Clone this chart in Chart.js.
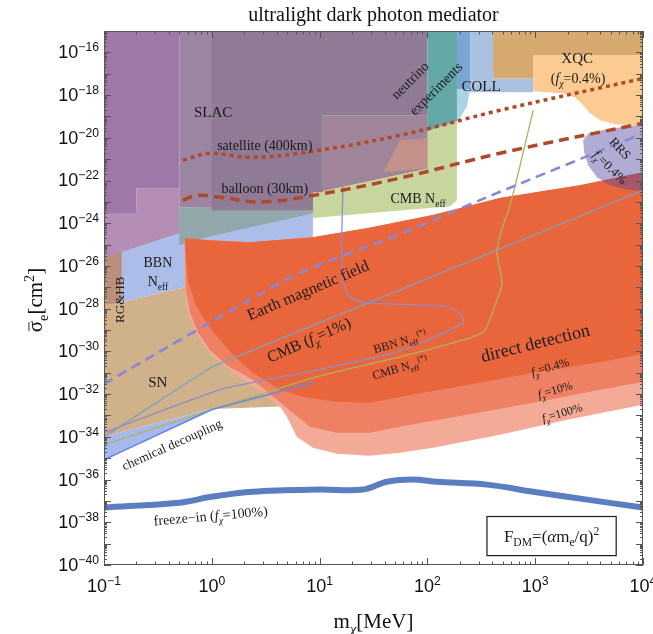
<!DOCTYPE html>
<html>
<head>
<meta charset="utf-8">
<script src="https://cdn.jsdelivr.net/npm/chart.js@4.4.1/dist/chart.umd.min.js"></script>
<style>
  html, body { margin: 0; padding: 0; background: #fff; }
  canvas { display: block; }
</style>
</head>
<body>
<canvas id="plot" width="653" height="634"></canvas>
<script>
// axis ticks
const massTicks = [0.1, 1, 10, 100, 1000, 10000];
const massTickExp = ['\u22121', '0', '1', '2', '3', '4'];
const sigmaTicks = [1e-16, 1e-18, 1e-20, 1e-22, 1e-24, 1e-26, 1e-28, 1e-30, 1e-32, 1e-34, 1e-36, 1e-38, 1e-40];
const sigmaTickExp = ['\u221216', '\u221218', '\u221220', '\u221222', '\u221224', '\u221226', '\u221228',
  '\u221230', '\u221232', '\u221234', '\u221236', '\u221238', '\u221240'];

// excluded regions, points are [m_chi in MeV, sigma_e in cm^2]
const bbnNeff = [[0.1, 2.95e-24], [8.67, 1.2e-23], [8.67, 1.6e-25], [2.25, 1.5e-26], [0.56, 1.0e-27], [0.146, 2.0e-28], [0.1, 1.5e-28]];
const supernova = [[0.1, 2.6e-28], [0.146, 2.0e-28], [0.56, 1.0e-27], [2.25, 1.1e-26], [12.5, 5.5e-26], [12.5, 3.2e-33], [4.28, 2.6e-33], [1.0, 2.0e-33], [0.1, 1.0e-34]];
const chemDecoupling = [[0.1, 1.0e-34], [1.0, 2.0e-33], [1.0, 1.7e-33], [0.1, 8.5e-36]];
const rgHB = [[0.1, 2.95e-24], [0.146, 2.95e-24], [0.146, 2.0e-28], [0.1, 1.5e-28]];
const rgHBEdge = [[0.1, 7.4e-28], [0.106, 7.4e-28], [0.106, 2.8e-30], [0.1, 2.8e-30]];
const stellarPink = [[0.1, 2.95e-24], [0.2, 2.95e-24], [0.2, 4.4e-23], [0.5, 4.4e-23], [0.5, 3.5e-25], [0.146, 4.5e-26], [0.1, 2.3e-26]];
const stellarPurple = [[0.1, 1e-15], [0.5, 1e-15], [0.5, 4.4e-23], [0.2, 4.4e-23], [0.2, 2.95e-24], [0.1, 2.95e-24]];
const cmbNeff = [[8.67, 5.6e-19], [188, 5.6e-19], [188, 1.2e-23], [162, 6.3e-24], [8.67, 1.74e-24]];
const slacEdge = [[0.5, 5.6e-24], [8.67, 5.6e-24], [8.67, 2.95e-24], [1.0, 2.5e-25], [0.5, 9.5e-26]];
const slac = [[0.5, 1e-15], [8.67, 1e-15], [8.67, 5.6e-24], [0.5, 5.6e-24]];
const slacUpper = [[1.0, 1e-15], [100, 1e-15], [100, 1.1e-19], [10.7, 1.1e-19], [10.7, 2.8e-23], [8.67, 2.8e-23], [8.67, 4.1e-24], [1.0, 4.1e-24]];
const slacMid = [[10.7, 1.1e-19], [100, 1.1e-19], [100, 3.7e-22], [10.7, 3.2e-23]];
const slacSalmon = [[38.7, 2.45e-22], [55.6, 7.6e-21], [100, 9.5e-21], [100, 3.7e-22]];
const neutrino = [[100, 1e-15], [188, 1e-15], [188, 5.9e-20], [131, 3.5e-20], [100, 2.0e-20]];
const collider = [[188, 1e-15], [249, 1e-15], [249, 1.85e-18], [188, 1.85e-18]];
const colliderEdge = [[188, 1.85e-18], [249, 1.85e-18], [233, 3.0e-19], [205, 1.0e-19], [188, 5.9e-20]];
const colliderLight = [[249, 1e-15], [407, 1e-15], [407, 6.0e-18], [957, 6.0e-18], [957, 1.35e-18], [249, 1.35e-18]];
const xqcFull = [[407, 1e-15], [1e4, 1e-15], [1e4, 7.2e-17], [957, 7.2e-17], [957, 6.0e-18], [407, 6.0e-18]];
const xqcFrac = [[957, 7.2e-17], [1e4, 7.2e-17], [1e4, 3.8e-20], [5520, 4.3e-20], [4008, 6.6e-20], [3236, 1.4e-19], [2786, 3.3e-19], [2344, 7.8e-19], [1816, 1.2e-18], [957, 1.5e-18]];
const ddTop = [[0.56, 2.0e-25], [0.958, 1.6e-25], [2.25, 1.3e-25], [8.67, 2.2e-25], [27.5, 5.9e-25], [113, 2.4e-24], [472, 1.5e-23], [2612, 6.0e-23], [1e4, 2.45e-22]];
const ddBottom100 = [[1e4, 3.2e-33], [1978, 6.3e-34], [472, 1.26e-34], [113, 3.1e-35], [55.6, 1.8e-35], [29.3, 1.3e-35], [14.5, 1.6e-35], [8.67, 3.1e-35], [6.15, 1.0e-34], [4.97, 8.7e-34], [4.28, 2.6e-33], [2.91, 1.15e-32], [1.82, 5.8e-32], [1.19, 3.2e-31], [0.861, 1.6e-30], [0.695, 1.0e-29], [0.6, 8.7e-29], [0.56, 7.4e-28]];
const ddBottom10 = [[1e4, 3.7e-32], [4008, 1.6e-32], [957, 3.9e-33], [233, 1.07e-33], [55.6, 2.95e-34], [29.3, 1.55e-34], [14.5, 1.55e-34], [8.13, 2.95e-34], [5.65, 1.35e-33], [4.01, 5.4e-33], [2.4, 4.7e-32], [1.41, 2.1e-31], [0.958, 1.17e-30], [0.741, 8.1e-30], [0.625, 7.1e-29], [0.574, 7.4e-28]];
const ddBottom04 = [[1e4, 7.6e-31], [4008, 3.2e-31], [957, 1.0e-31], [233, 2.7e-32], [55.6, 7.4e-33], [29.3, 3.9e-33], [14.5, 4.4e-33], [7.0, 7.4e-33], [4.28, 1.6e-32], [2.4, 1.0e-31], [1.64, 5.5e-31], [1.19, 3.5e-30], [0.918, 1.74e-29], [0.71, 1.5e-28], [0.6, 2.2e-27]];
const rrs = [[1e4, 4.3e-20], [6147, 3.1e-20], [4008, 2.2e-20], [3105, 1.6e-20], [2786, 7.6e-21], [2844, 2.1e-21], [3105, 5.1e-22], [3758, 1.4e-22], [4955, 6.0e-23], [6840, 3.9e-23], [1e4, 3.2e-23]];

// curves
const cmbOnePct = [[0.1, 1.0e-34], [1.0, 1.9e-31], [1e4, 3.5e-23]];
const bbnNeffStar = [[0.1, 1.55e-34], [1.19, 1.6e-32], [8.67, 1.23e-31], [55.6, 1.05e-30], [214, 2.1e-29], [201, 6.3e-29], [140, 1.35e-28], [27.5, 1.86e-28], [19.1, 3.5e-28], [16.5, 1.8e-27], [16.1, 1.4e-26], [16.1, 4.8e-25], [16.5, 5.4e-23]];
const cmbNeffStar = [[0.1, 4.3e-35], [8.67, 5.8e-32], [55.6, 5.5e-31], [265, 4.8e-30], [343, 1.0e-29], [443, 2.6e-28], [493, 1.6e-27], [443, 4.0e-26], [472, 2.8e-25], [585, 7.1e-24], [724, 5.1e-22], [957, 1.95e-19]];
const chemLine = [[0.1, 8.5e-36], [1.0, 1.9e-33], [8.67, 3.4e-32]];
const earthField = [[0.1, 3.0e-32], [2.25, 2.6e-28], [6.56, 4.7e-27], [68.9, 4.8e-25], [358, 1.66e-23], [1e4, 1.6e-20]];
const satellite = [[0.538, 8.9e-22], [0.958, 1.9e-21], [2.25, 1.2e-21], [6.56, 1.9e-21], [55.6, 1.3e-20], [472, 1.95e-19], [1e4, 6.0e-18]];
const balloon = [[0.538, 1.2e-23], [0.726, 2.0e-23], [1.19, 1.66e-23], [2.79, 9.8e-24], [8.67, 2.0e-23], [55.6, 1.3e-22], [472, 1.9e-21], [1e4, 4.8e-20]];
const freezeIn = [[0.1, 4.9e-38], [0.5, 8.3e-38], [1.02, 1.6e-37], [2.4, 2.7e-37], [10, 3.4e-37], [25.2, 3.4e-37], [42.2, 7.9e-37], [73.5, 1.0e-36], [123, 7.9e-37], [358, 5.8e-37], [957, 2.7e-37], [3036, 1.15e-37], [1e4, 4.9e-38]];

const SERIF = '"Liberation Serif", "Times New Roman", serif';
const SANS = '"Liberation Sans", Arial, sans-serif';

// region labels, anchored in data coordinates
const notes = [
  {t: [['SLAC', '']], m: 1.03, s: 1.55e-19, size: 15, rot: 0},
  {t: [['satellite (400km)', '']], m: 3.1, s: 4.5e-21, size: 14, rot: 0},
  {t: [['balloon (30km)', '']], m: 3.1, s: 4.4e-23, size: 14, rot: 0},
  {t: [['neutrino', '']], m: 68.9, s: 4.9e-18, size: 14, rot: -45},
  {t: [['experiments', '']], m: 120, s: 2.0e-18, size: 14, rot: -45},
  {t: [['COLL', '']], m: 315, s: 2.6e-18, size: 15, rot: 0},
  {t: [['XQC', '']], m: 2450, s: 5.2e-17, size: 15, rot: 0},
  {t: [['(', ''], ['f', 'i'], ['\u03c7', 'isub'], ['=0.4%)', '']], m: 2500, s: 6.0e-18, size: 14, rot: 0},
  {t: [['RRS', '']], m: 6140, s: 3.2e-21, size: 13, rot: 47},
  {t: [['f', 'i'], ['\u03c7', 'isub'], ['=0.4%', '']], m: 4960, s: 4.2e-22, size: 13, rot: 45},
  {t: [['CMB N', ''], ['eff', 'sub']], m: 81.8, s: 1.5e-23, size: 14, rot: 0},
  {t: [['BBN', '']], m: 0.316, s: 1.4e-26, size: 14, rot: 0},
  {t: [['N', ''], ['eff', 'sub']], m: 0.316, s: 1.8e-27, size: 14, rot: 0},
  {t: [['RG&HB', '']], m: 0.14, s: 2.6e-28, size: 13, rot: -90},
  {t: [['Earth magnetic field', '']], m: 7.78, s: 7.4e-28, size: 16, rot: -23},
  {t: [['CMB (', ''], ['f', 'i'], ['\u03c7', 'isub'], ['=1%)', '']], m: 7.95, s: 3.5e-30, size: 16, rot: -24},
  {t: [['BBN N', ''], ['eff', 'sub'], ['(*)', 'sup']], m: 55.7, s: 2.8e-30, size: 12, rot: -16},
  {t: [['CMB N', ''], ['eff', 'sub'], ['(*)', 'sup']], m: 55.7, s: 1.7e-31, size: 12, rot: -16},
  {t: [['direct detection', '']], m: 998, s: 2.5e-30, size: 18, rot: -14},
  {t: [['f', 'i'], ['\u03c7', 'isub'], ['=0.4%', '']], m: 1375, s: 1.9e-31, size: 12, rot: -16},
  {t: [['f', 'i'], ['\u03c7', 'isub'], ['=10%', '']], m: 1530, s: 1.6e-32, size: 12, rot: -16},
  {t: [['f', 'i'], ['\u03c7', 'isub'], ['=100%', '']], m: 1780, s: 1.35e-33, size: 12, rot: -16},
  {t: [['SN', '']], m: 0.316, s: 3.7e-32, size: 15, rot: 0},
  {t: [['chemical decoupling', '']], m: 0.426, s: 4.3e-35, size: 13, rot: -24},
  {t: [['freeze\u2212in (', ''], ['f', 'i'], ['\u03c7', 'isub'], ['=100%)', '']], m: 0.977, s: 2.0e-38, size: 14, rot: -5}
];

const pts = arr => arr.map(([m, s]) => ({x: m, y: s}));

// back to front
const areas = [
  [bbnNeff, '#adbde9'],
  [supernova, '#cfb18a'],
  [chemDecoupling, '#a7b8ef'],
  [rgHB, '#ba8f7c'],
  [rgHBEdge, '#e6a257'],
  [stellarPink, '#b48db4'],
  [stellarPurple, '#9e79a7'],
  [cmbNeff, '#c7d69d'],
  [slacEdge, '#92a7a9'],
  [slac, '#9b85a2'],
  [slacUpper, '#8f7b96'],
  [slacMid, '#a08499'],
  [slacSalmon, '#c3918a'],
  [neutrino, '#63a8a7'],
  [collider, '#7aa6d4'],
  [colliderEdge, '#aad4e3'],
  [colliderLight, '#aac0e1'],
  [xqcFull, '#d6aa6f'],
  [xqcFrac, '#fbcb91'],
  [ddTop.concat(ddBottom100), '#f3ab97'],
  [ddTop.concat(ddBottom10), '#ee8164'],
  [ddTop.concat(ddBottom04), '#e9663d'],
  [rrs, 'rgba(80,70,160,0.45)']
];

const curves = [
  [cmbOnePct, '#7f9fbd', 1.3, [], 0],
  [bbnNeffStar, '#8f8dc9', 1.3, [], 0.2],
  [cmbNeffStar, '#aab45c', 1.3, [], 0.2],
  [chemLine, '#6688dd', 1.5, [], 0],
  [earthField, '#8c86d4', 2.6, [10, 6], 0.3],
  [satellite, '#b2482b', 3.5, [4, 4], 0.35],
  [balloon, '#b2482b', 3.5, [10, 6], 0.35],
  [freezeIn, '#5a7ec0', 6, [], 0.35]
];

const datasets = [];
areas.forEach(([a, color]) => datasets.push({
  data: pts(a), showLine: true, fill: 'shape', backgroundColor: color,
  borderColor: 'rgba(0,0,0,0)', borderWidth: 0, pointRadius: 0, tension: 0
}));
curves.forEach(([c, color, w, dash, tension]) => datasets.push({
  data: pts(c), showLine: true, fill: false, borderColor: color, borderWidth: w,
  borderDash: dash, pointRadius: 0, tension: tension
}));
datasets.reverse(); // first dataset is painted on top

function drawRich(ctx, parts, x, y, size, rot, family, align) {
  const fonts = parts.map(([t, s]) => {
    const small = s.includes('sub') || s.includes('sup');
    return (s.startsWith('i') ? 'italic ' : '') + (small ? size * 0.68 : size).toFixed(1) + 'px ' + family;
  });
  let w = 0;
  const widths = parts.map(([t], i) => { ctx.font = fonts[i]; const m = ctx.measureText(t).width; w += m; return m; });
  ctx.save();
  ctx.translate(x, y);
  ctx.rotate(rot * Math.PI / 180);
  ctx.textBaseline = 'alphabetic';
  ctx.textAlign = 'left';
  let x0 = align === 'right' ? -w : align === 'left' ? 0 : -w / 2;
  const base = size * 0.33;
  parts.forEach(([t, s], i) => {
    ctx.font = fonts[i];
    let dy = 0;
    if (s.includes('sub')) dy = size * 0.28;
    if (s.includes('sup')) dy = -size * 0.4;
    ctx.fillText(t, x0, base + dy);
    if (s.includes('bar')) {
      ctx.beginPath();
      ctx.lineWidth = 1.2;
      ctx.moveTo(x0 + 1, base - size * 0.62);
      ctx.lineTo(x0 + widths[i] - 1, base - size * 0.62);
      ctx.stroke();
    }
    x0 += widths[i];
  });
  ctx.restore();
}

const decor = {
  id: 'decor',
  afterDatasetsDraw(chart) {
    const {ctx, chartArea: a, scales: {x, y}} = chart;
    ctx.save();
    ctx.fillStyle = '#1a1a1a';
    ctx.strokeStyle = '#1a1a1a';

    notes.forEach(n => drawRich(ctx, n.t, x.getPixelForValue(n.m), y.getPixelForValue(n.s), n.size, n.rot, SERIF, 'center'));

    // form factor box
    const bx0 = x.getPixelForValue(357), bx1 = x.getPixelForValue(5640);
    const by0 = y.getPixelForValue(1.86e-38), by1 = y.getPixelForValue(2.75e-40);
    ctx.fillStyle = '#fff';
    ctx.fillRect(bx0, by0, bx1 - bx0, by1 - by0);
    ctx.lineWidth = 1.2;
    ctx.strokeRect(bx0, by0, bx1 - bx0, by1 - by0);
    ctx.fillStyle = '#1a1a1a';
    drawRich(ctx, [['F', ''], ['DM', 'sub'], ['=(', ''], ['\u03b1', 'i'], ['m', ''], ['e', 'sub'], ['/q)', ''], ['2', 'sup']],
      (bx0 + bx1) / 2, (by0 + by1) / 2, 17, 0, SERIF, 'center');

    // frame and inward ticks
    ctx.strokeStyle = '#555';
    ctx.lineWidth = 1;
    ctx.strokeRect(a.left + 0.5, a.top + 0.5, a.right - a.left - 1, a.bottom - a.top - 1);
    ctx.beginPath();
    for (let k = -1; k <= 4; k++) {
      for (let j = 1; j <= 9; j++) {
        const v = j * Math.pow(10, k);
        if (v > 10000 * 1.0001) continue;
        const px = Math.round(x.getPixelForValue(v)) + 0.5;
        const len = j === 1 ? 7 : 3.5;
        ctx.moveTo(px, a.bottom); ctx.lineTo(px, a.bottom - len);
        ctx.moveTo(px, a.top); ctx.lineTo(px, a.top + len);
      }
    }
    for (let k = -40; k <= -16; k++) {
      for (let j = 1; j <= 9; j++) {
        const v = j * Math.pow(10, k);
        if (v > 1e-15) continue;
        const py = Math.round(y.getPixelForValue(v)) + 0.5;
        const len = j === 1 ? 7 : 3;
        ctx.moveTo(a.left, py); ctx.lineTo(a.left + len, py);
        ctx.moveTo(a.right, py); ctx.lineTo(a.right - len, py);
      }
    }
    ctx.stroke();

    // tick labels
    ctx.fillStyle = '#111';
    sigmaTicks.forEach((v, i) => drawRich(ctx, [['10', ''], [sigmaTickExp[i], 'sup']],
      a.left - 5, y.getPixelForValue(v), 18, 0, SANS, 'right'));
    massTicks.forEach((v, i) => drawRich(ctx, [['10', ''], [massTickExp[i], 'sup']],
      x.getPixelForValue(v), a.bottom + 21, 18, 0, SANS, 'center'));

    // titles
    drawRich(ctx, [['ultralight dark photon mediator', '']], (a.left + a.right) / 2, 14, 20, 0, SERIF, 'center');
    drawRich(ctx, [['m', ''], ['\u03c7', 'isub'], ['[MeV]', '']], (a.left + a.right) / 2, 621, 21, 0, SERIF, 'center');
    drawRich(ctx, [['\u03c3', 'bar'], ['e', 'sub'], ['[cm', ''], ['2', 'sup'], [']', '']], 35, 300, 21, -90, SERIF, 'center');
    ctx.restore();
  }
};

new Chart(document.getElementById('plot'), {
  type: 'scatter',
  data: { datasets: datasets },
  options: {
    responsive: false,
    animation: false,
    layout: { padding: { left: 104, right: 10, top: 31, bottom: 69 } },
    scales: {
      x: { type: 'logarithmic', min: 0.1, max: 10000, bounds: 'data', display: false },
      y: { type: 'logarithmic', min: 1e-40, max: 1e-15, bounds: 'data', display: false }
    },
    plugins: { legend: { display: false }, tooltip: { enabled: false } }
  },
  plugins: [decor]
});
</script>
</body>
</html>
